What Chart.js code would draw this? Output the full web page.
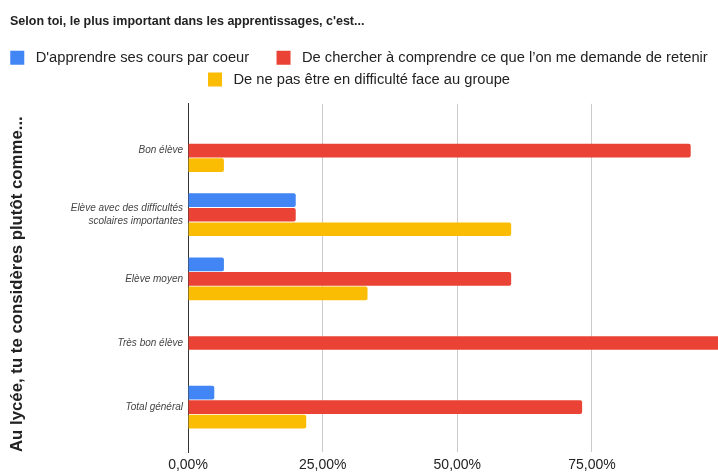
<!DOCTYPE html>
<html><head><meta charset="utf-8">
<script src="https://cdn.jsdelivr.net/npm/chart.js@4.4.1/dist/chart.umd.min.js"></script>
<style>html,body{margin:0;padding:0;background:#fff;overflow:hidden}</style>
</head><body>
<canvas id="c" width="718" height="474"></canvas>
<script>
const titleText = "Selon toi, le plus important dans les apprentissages, c'est...";
const axisTitle = "Au lycée, tu te considères plutôt comme...";
const categories = ['Bon élève', ['Elève avec des difficultés', 'scolaires importantes'], 'Elève moyen', 'Très bon élève', 'Total général'];
const seriesNames = ["D'apprendre ses cours par coeur", "De chercher à comprendre ce que l’on me demande de retenir", "De ne pas être en difficulté face au groupe"];
const apprendreCoeur = [0, 20, 6.67, 0, 4.88];
const chercherComprendre = [93.33, 20, 60, 100, 73.17];
const pasDifficulte = [6.67, 60, 33.33, 0, 21.95];
const xTickValues = [0, 25, 50, 75];
const seriesColors = ['#4285F4', '#EA4335', '#FBBC04'];

const n = categories.length;
const toPoints = arr => arr.map((v, i) => ({x: v, y: n - 1 - i}));

const titleShift = {
  id: 'titleShift',
  afterLayout(chart) { if (chart.titleBlock) { chart.titleBlock.left += 10; chart.titleBlock.right += 10; } }
};

new Chart(document.getElementById('c'), {
  type: 'bar',
  data: {
    datasets: [apprendreCoeur, chercherComprendre, pasDifficulte].map((arr, k) => ({
      label: seriesNames[k],
      data: toPoints(arr),
      backgroundColor: seriesColors[k],
      borderWidth: 0,
      borderRadius: 2,
      borderSkipped: 'start',
      categoryPercentage: 0.68,
      barPercentage: 0.94
    }))
  },
  options: {
    indexAxis: 'y',
    responsive: false,
    animation: false,
    devicePixelRatio: 1,
    layout: {padding: 0},
    plugins: {
      title: {
        display: true, text: titleText, align: 'start',
        color: '#222',
        font: {family: "'Liberation Sans', Arial, sans-serif", size: 12.5, weight: 'bold'},
        padding: {top: 14.5, bottom: 13.9}
      },
      legend: {
        display: true, position: 'top', align: 'center',
        labels: {
          boxWidth: 14, boxHeight: 14, padding: 7, color: '#222',
          font: {family: "'Liberation Sans', Arial, sans-serif", size: 14.7},
          generateLabels(chart) {
            const items = Chart.defaults.plugins.legend.labels.generateLabels(chart);
            items.forEach((it, i) => { it.text = ' ' + it.text + (i === 0 ? '     ' : ''); });
            return items;
          }
        }
      },
      tooltip: {enabled: false}
    },
    scales: {
      x: {
        type: 'linear', position: 'bottom', min: 0, max: 98.4,
        afterBuildTicks(s) { s.ticks = xTickValues.map(v => ({value: v})); },
        afterFit(s) { s.height = 22; },
        ticks: {
          padding: 5, color: '#222',
          font: {family: "'Liberation Sans', Arial, sans-serif", size: 14},
          callback: v => v.toFixed(2).replace('.', ',') + '%'
        },
        grid: {color: '#cccccc', drawTicks: false, lineWidth: 1},
        border: {display: false}
      },
      xTop: {
        type: 'linear', position: 'top', display: true,
        ticks: {display: false}, grid: {display: false}, border: {display: false},
        afterFit(s) { s.height = 7; }
      },
      y: {
        type: 'linear', min: -0.70, max: 4.73, offset: false, bounds: 'data',
        afterBuildTicks(s) { s.ticks = categories.map((c, i) => ({value: i})); },
        afterFit(s) { s.width = 188; },
        ticks: {
          padding: 5, color: '#444', autoSkip: false,
          font: {family: "'Liberation Sans', Arial, sans-serif", size: 10, style: 'italic', lineHeight: 1.3},
          callback: v => categories[n - 1 - v]
        },
        grid: {display: false, drawTicks: false},
        border: {display: true, color: '#333', width: 1},
        title: {
          display: true, text: axisTitle, align: 'start', color: '#222',
          font: {family: "'Liberation Sans', Arial, sans-serif", size: 16.8, weight: 'bold'},
          padding: {top: 7, bottom: 40}
        }
      }
    }
  },
  plugins: [titleShift]
});
</script>
</body></html>
